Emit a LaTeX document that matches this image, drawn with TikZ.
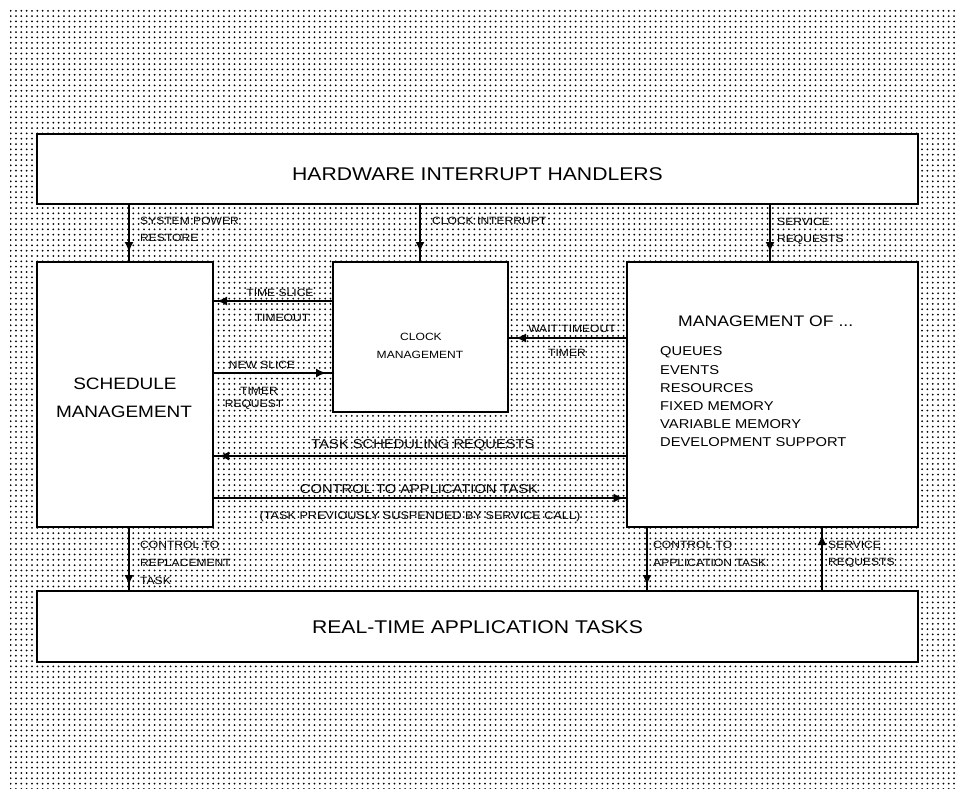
\documentclass[tikz,border=0pt]{standalone}
\usepackage{fontspec}
\setmainfont[FakeStretch=1.15]{Liberation Sans}
\usetikzlibrary{patterns.meta,arrows.meta,decorations.markings}
\tikzset{
  box/.style={draw, line width=2pt, fill=white, inner sep=0pt},
  title/.style={inner sep=0pt, font=\fontsize{18.4}{20}\selectfont},
  lab/.style={inner sep=0pt, font=\fontsize{10.5}{12}\selectfont},
  midlab/.style={inner sep=0pt, font=\fontsize{12.8}{14}\selectfont},
  item/.style={inner sep=0pt, anchor=west, font=\fontsize{12.8}{14}\selectfont},
  conn/.style={line width=1.6pt, postaction={decorate},
    decoration={markings, mark=at position #1 with {\arrow{Latex[length=10pt,width=9pt]}}}},
}
\begin{document}
\begin{tikzpicture}[x=1pt,y=-1pt]
\useasboundingbox (0,0) rectangle (956,789);
\fill[white] (0,0) rectangle (956,789);
\fill[pattern={Dots[distance=5.33pt,radius=1pt]}, pattern color=black] (10,8) rectangle (956,789);

% boxes
\node[box, minimum width=881pt, minimum height=70pt] (hw) at (477.5,169) {};
\node[title] (hwt) at (477.5,174) {HARDWARE INTERRUPT HANDLERS};
\node[box, minimum width=176pt, minimum height=265pt] (sched) at (125,394.5) {};
\node[inner sep=0pt, font=\fontsize{16.5}{18}\selectfont] (scht1) at (125,384) {SCHEDULE};
\node[inner sep=0pt, font=\fontsize{16.5}{18}\selectfont] (scht2) at (124,412) {MANAGEMENT};
\node[box, minimum width=175pt, minimum height=150pt] (clock) at (420.5,337) {};
\node[inner sep=0pt, font=\fontsize{10.5}{12}\selectfont] (clkt1) at (421,337) {CLOCK};
\node[inner sep=0pt, font=\fontsize{10.5}{12}\selectfont] (clkt2) at (420,355) {MANAGEMENT};
\node[box, minimum width=291pt, minimum height=265pt] (mgmt) at (772,394.5) {};
\node[inner sep=0pt, anchor=west, font=\fontsize{15.3}{17}\selectfont] (mgt) at (678,321) {MANAGEMENT OF ...};
\foreach \t [count=\i] in {QUEUES, EVENTS, RESOURCES, FIXED MEMORY, VARIABLE MEMORY, DEVELOPMENT SUPPORT}
  \node[item] (it\i) at (660,334+18*\i) {\t};
\node[box, minimum width=881pt, minimum height=71pt] (rt) at (477.5,626.5) {};
\node[title] (rtt) at (477.5,627) {REAL-TIME APPLICATION TASKS};

% x positions of vertical connectors
\coordinate (xa) at (129,0);
\coordinate (xb) at (420,0);
\coordinate (xc) at (770,0);
\coordinate (xd) at (647,0);
\coordinate (xe) at (822,0);
% y positions of horizontal connectors
\coordinate (ya) at (0,301);
\coordinate (yb) at (0,373);
\coordinate (yc) at (0,338);
\coordinate (yd) at (0,456);
\coordinate (ye) at (0,498);

% vertical connectors
\draw[conn=-9pt] (hw.south -| xa) -- (sched.north -| xa);
\draw[conn=-9pt] (hw.south -| xb) -- (clock.north -| xb);
\draw[conn=-9pt] (hw.south -| xc) -- (mgmt.north -| xc);
\draw[conn=-5pt] (sched.south -| xa) -- (rt.north -| xa);
\draw[conn=-5pt] (mgmt.south -| xd) -- (rt.north -| xd);
\draw[conn=-7pt] (rt.north -| xe) -- (mgmt.south -| xe);

% horizontal connectors
\draw[conn=-3pt] (clock.west |- ya) -- (sched.east |- ya);
\draw[conn=-6pt] (sched.east |- yb) -- (clock.west |- yb);
\draw[conn=-7pt] (mgmt.west |- yc) -- (clock.east |- yc);
\draw[conn=-5pt] (mgmt.west |- yd) -- (sched.east |- yd);
\draw[conn=-2pt] (sched.east |- ye) -- (mgmt.west |- ye);

% connector labels
\node[lab, anchor=west] (l1a) at (140,221) {SYSTEM POWER};
\node[lab, anchor=west] (l1b) at (140,238) {RESTORE};
\node[lab, anchor=west] (l2) at (432,221) {CLOCK INTERRUPT};
\node[lab, anchor=west] (l3a) at (777,222) {SERVICE};
\node[lab, anchor=west] (l3b) at (777,240) {REQUESTS};
\node[lab] (l4a) at (280,293) {TIME SLICE};
\node[lab] (l4b) at (282,318) {TIMEOUT};
\node[lab] (l5a) at (262,365) {NEW SLICE};
\node[lab] (l5b) at (259,391) {TIMER};
\node[lab] (l5c) at (254,405) {REQUEST};
\node[lab] (l6a) at (572,329) {WAIT TIMEOUT};
\node[lab] (l6b) at (567,353) {TIMER};
\node[midlab] (l7) at (423,445) {TASK SCHEDULING REQUESTS};
\node[midlab] (l8) at (419,489) {CONTROL TO APPLICATION TASK};
\node[lab, font=\fontsize{11}{12}\selectfont] (l9) at (420,517) {(TASK PREVIOUSLY SUSPENDED BY SERVICE CALL)};
\node[lab, anchor=west] (l10a) at (140,545) {CONTROL TO};
\node[lab, anchor=west] (l10b) at (140,563) {REPLACEMENT};
\node[lab, anchor=west] (l10c) at (140,581) {TASK};
\node[lab, anchor=west] (l11a) at (653,545) {CONTROL TO};
\node[lab, anchor=west] (l11b) at (653,563) {APPLICATION TASK};
\node[lab, anchor=west] (l12a) at (828,545) {SERVICE};
\node[lab, anchor=west] (l12b) at (828,563) {REQUESTS};
\end{tikzpicture}
\end{document}
